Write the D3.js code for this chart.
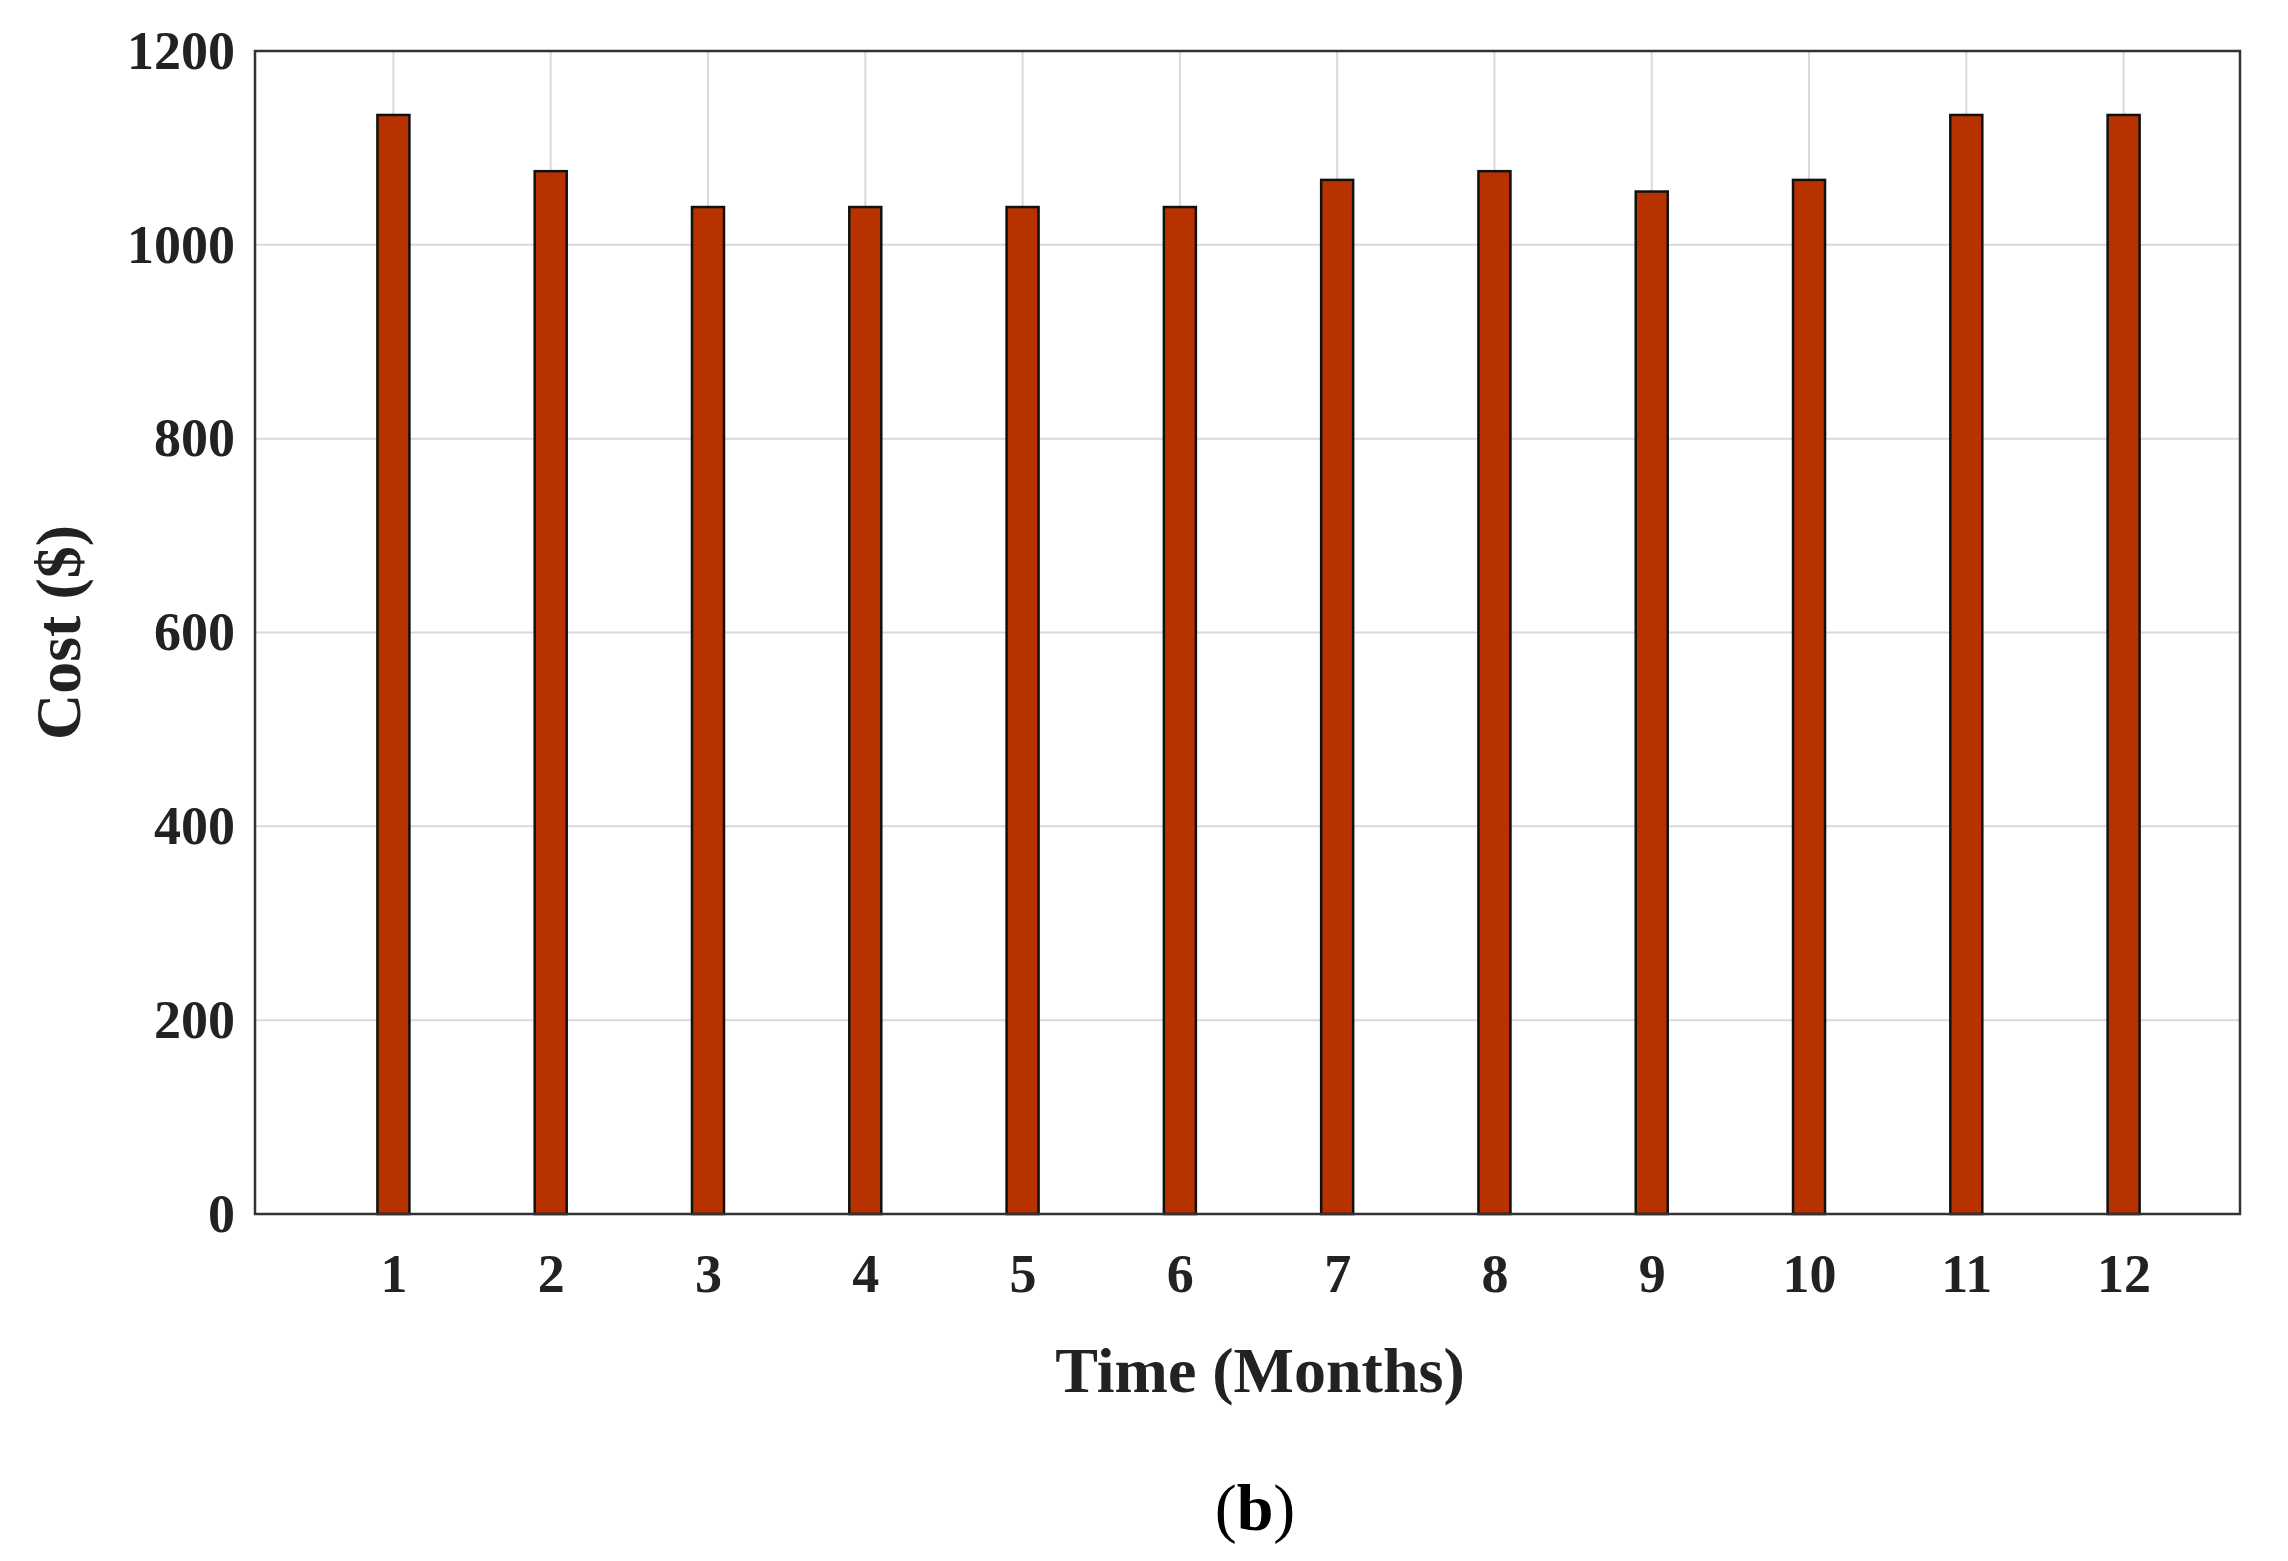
<!DOCTYPE html>
<html><head><meta charset="utf-8">
<script src="https://cdn.jsdelivr.net/npm/d3@7"></script>
<style>body{margin:0;background:#fff}</style></head>
<body><svg id="c" width="2288" height="1561"></svg>
<script>
const months = [1,2,3,4,5,6,7,8,9,10,11,12];
const costs = [1134,1076,1039,1039,1039,1039,1067,1076,1055,1067,1134,1134];
const yTicks = [0,200,400,600,800,1000,1200];

const W = 2288, H = 1561;
const m = {left: 255, right: 48, top: 51, bottom: 347};
const svg = d3.select("#c").style("font-family", "'Liberation Serif', 'Times New Roman', serif");

const x = d3.scaleLinear().domain([0.12, 12.74]).range([m.left, W - m.right]);
const y = d3.scaleLinear().domain([0, 1200]).range([H - m.bottom, m.top]);

// grid
svg.append("g").selectAll("line").data(yTicks).join("line")
  .attr("x1", m.left).attr("x2", W - m.right)
  .attr("y1", d => y(d)).attr("y2", d => y(d))
  .attr("stroke", "#d9d9d9").attr("stroke-width", 2);
svg.append("g").selectAll("line").data(months).join("line")
  .attr("x1", d => x(d)).attr("x2", d => x(d))
  .attr("y1", m.top).attr("y2", H - m.bottom)
  .attr("stroke", "#d9d9d9").attr("stroke-width", 2);

// bars
const bw = 32;
svg.append("g").selectAll("rect").data(costs).join("rect")
  .attr("x", (d, i) => x(months[i]) - bw / 2)
  .attr("width", bw)
  .attr("y", d => y(d))
  .attr("height", d => y(0) - y(d))
  .attr("fill", "#b83200").attr("stroke", "#111").attr("stroke-width", 2.5);

// frame
svg.append("rect").attr("x", m.left).attr("y", m.top)
  .attr("width", W - m.left - m.right).attr("height", H - m.top - m.bottom)
  .attr("fill", "none").attr("stroke", "#333").attr("stroke-width", 2.5);

// axes
const ya = svg.append("g").attr("transform", `translate(${m.left},0)`)
  .call(d3.axisLeft(y).tickValues(yTicks).tickFormat(d3.format("d")).tickSize(0).tickPadding(20));
const xa = svg.append("g").attr("transform", `translate(0,${H - m.bottom})`)
  .call(d3.axisBottom(x).tickValues(months).tickSize(0).tickPadding(40));
[ya, xa].forEach(a => {
  a.select(".domain").remove();
  a.selectAll("text").attr("font-size", 54).attr("font-weight", "bold")
    .attr("fill", "#222").attr("font-family", "'Liberation Serif', serif");
});

svg.append("text").attr("x", 1260).attr("y", 1392)
  .attr("text-anchor", "middle").attr("font-size", 64).attr("font-weight", "bold")
  .attr("fill", "#222").text("Time (Months)");
svg.append("text").attr("transform", `translate(80,${(m.top + H - m.bottom) / 2}) rotate(-90)`)
  .attr("text-anchor", "middle").attr("font-size", 64).attr("font-weight", "bold")
  .attr("fill", "#222").text("Cost ($)");
svg.append("text").attr("x", 1255).attr("y", 1530)
  .attr("text-anchor", "middle").attr("font-size", 66).attr("fill", "#000")
  .html("(<tspan font-weight='bold'>b</tspan>)");
</script></body></html>
